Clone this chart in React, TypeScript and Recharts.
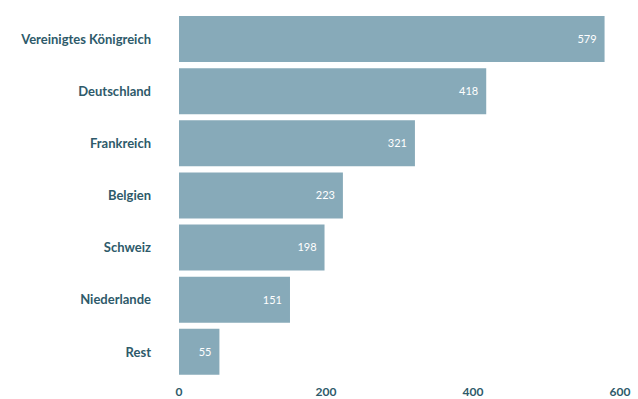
import { Bar, BarChart, LabelList, XAxis, YAxis } from 'recharts'

const countries = ['Vereinigtes Königreich', 'Deutschland', 'Frankreich', 'Belgien', 'Schweiz', 'Niederlande', 'Rest']
const values = [579, 418, 321, 223, 198, 151, 55]
const xTicks = [0, 200, 400, 600]

const data = countries.map((name, i) => ({ name, value: values[i] }))

const textColor = '#2e5a6a'
const barColor = '#87aab9'

export default function App() {
  return (
    <div style={{ position: 'absolute', left: 0, top: 0, fontFamily: 'Lato, sans-serif' }}>
      <BarChart
        width={638}
        height={399}
        data={data}
        layout="vertical"
        margin={{ top: 13, right: 18, left: 0, bottom: 0 }}
        barCategoryGap={3}
      >
        <XAxis
          type="number"
          domain={[0, 600]}
          ticks={xTicks}
          axisLine={false}
          tickLine={false}
          height={21}
          tickMargin={3}
          tick={{ fill: textColor, fontSize: 12, fontWeight: 700 }}
        />
        <YAxis
          type="category"
          dataKey="name"
          width={179}
          axisLine={false}
          tickLine={false}
          tickMargin={22}
          tick={{ fill: textColor, fontSize: 13, fontWeight: 700 }}
        />
        <Bar dataKey="value" fill={barColor} isAnimationActive={false}>
          <LabelList dataKey="value" position="insideRight" offset={8} fill="#ffffff" fontSize={11} />
        </Bar>
      </BarChart>
    </div>
  )
}
